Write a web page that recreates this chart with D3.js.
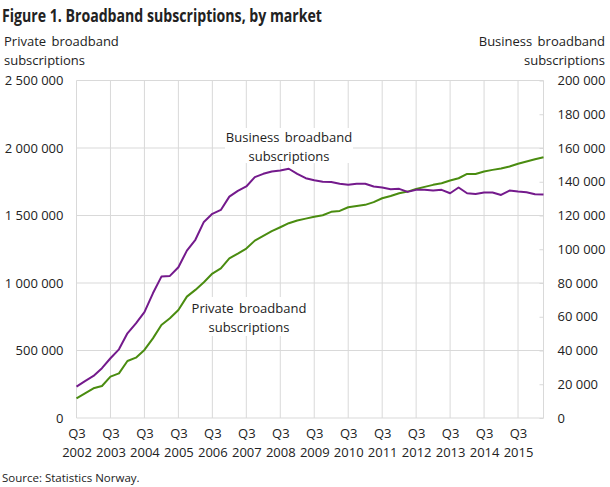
<!DOCTYPE html>
<html lang="en">
<head>
    <meta charset="UTF-8"/>
    <title>Broadband subscriptions, by market</title>
    <script src="https://d3js.org/d3.v7.min.js"></script>
    <style>
        body { margin: 0; background: #fff; }
        text { font-family: "Open Sans", sans-serif; fill: #222; }
    </style>
</head>
<body>
<script>
    // quarters 2002K3 .. 2016K2
    var quarters = [
        "2002K3","2002K4",
        "2003K1","2003K2","2003K3","2003K4",
        "2004K1","2004K2","2004K3","2004K4",
        "2005K1","2005K2","2005K3","2005K4",
        "2006K1","2006K2","2006K3","2006K4",
        "2007K1","2007K2","2007K3","2007K4",
        "2008K1","2008K2","2008K3","2008K4",
        "2009K1","2009K2","2009K3","2009K4",
        "2010K1","2010K2","2010K3","2010K4",
        "2011K1","2011K2","2011K3","2011K4",
        "2012K1","2012K2","2012K3","2012K4",
        "2013K1","2013K2","2013K3","2013K4",
        "2014K1","2014K2","2014K3","2014K4",
        "2015K1","2015K2","2015K3","2015K4",
        "2016K1","2016K2"
    ];

    // private subscriptions (left axis)
    var privateSubs = [
        146000, 183000, 220000, 237000, 306000, 331000, 422000, 447000,
        504000, 590000, 689000, 739000, 800000, 899000, 949000, 1006000,
        1070000, 1109000, 1183000, 1218000, 1255000, 1314000, 1349000, 1384000,
        1413000, 1443000, 1463000, 1477000, 1490000, 1502000, 1527000, 1534000,
        1561000, 1571000, 1579000, 1599000, 1628000, 1645000, 1665000, 1677000,
        1697000, 1712000, 1727000, 1739000, 1759000, 1776000, 1808000, 1808000,
        1826000, 1838000, 1848000, 1863000, 1883000, 1900000, 1917000, 1932000
    ];

    // business subscriptions (right axis)
    var businessSubs = [
        18600, 21900, 24900, 29500, 35400, 40700, 50200, 56100,
        62700, 73900, 83800, 84200, 89300, 99200, 105600, 116200,
        121000, 123300, 131200, 134600, 137200, 142700, 144700, 146100,
        146700, 147700, 144700, 142100, 140900, 140000, 139800, 138800,
        138200, 138800, 138800, 137200, 136600, 135600, 135800, 134000,
        135200, 135300, 134800, 135200, 133200, 136600, 133200, 132800,
        133600, 133600, 132200, 134800, 134200, 133800, 132600, 132400
    ];

    var leftTicks = [0, 500000, 1000000, 1500000, 2000000, 2500000];
    var rightTicks = [0, 20000, 40000, 60000, 80000, 100000, 120000, 140000, 160000, 180000, 200000];
    var xTicks = ["2002K3","2003K3","2004K3","2005K3","2006K3","2007K3","2008K3",
                  "2009K3","2010K3","2011K3","2012K3","2013K3","2014K3","2015K3"];

    var w = 610;
    var h = 487;
    var plotLeft = 76.5, plotRight = 543.5, plotTop = 80.5, plotBottom = 418;

    var fmt = function(d) { return d3.format(",")(d).replace(/,/g, " "); };

    var xScale = d3.scalePoint()
                    .domain(quarters)
                    .range([plotLeft, plotRight]);

    var yLeft = d3.scaleLinear()
                    .domain([0, 2500000])
                    .range([plotBottom, plotTop]);

    var yRight = d3.scaleLinear()
                    .domain([0, 200000])
                    .range([plotBottom, plotTop]);

    var svg = d3.select("body")
                .append("svg")
                .attr("width", w)
                .attr("height", h);

    // grid
    var grid = svg.append("g").attr("stroke", "#d9d9d9").attr("stroke-width", 1);

    grid.selectAll(".hgrid")
        .data(leftTicks)
        .enter()
        .append("line")
        .attr("x1", plotLeft)
        .attr("x2", plotRight)
        .attr("y1", function(d) { return yLeft(d); })
        .attr("y2", function(d) { return yLeft(d); });

    grid.selectAll(".vgrid")
        .data(xTicks)
        .enter()
        .append("line")
        .attr("x1", function(d) { return xScale(d); })
        .attr("x2", function(d) { return xScale(d); })
        .attr("y1", plotTop)
        .attr("y2", plotBottom);

    grid.append("line")
        .attr("x1", plotRight).attr("x2", plotRight)
        .attr("y1", plotTop).attr("y2", plotBottom);

    // left axis
    var gLeft = svg.append("g")
        .attr("transform", "translate(" + plotLeft + ",0)")
        .call(d3.axisLeft(yLeft).tickValues(leftTicks).tickSize(0).tickPadding(13).tickFormat(fmt));
    gLeft.select(".domain").remove();
    gLeft.selectAll("text").attr("font-size", "13px").attr("font-family", "Open Sans").attr("fill", "#222");

    // right axis, small inward ticks
    var gRight = svg.append("g")
        .attr("transform", "translate(" + plotRight + ",0)")
        .call(d3.axisRight(yRight).tickValues(rightTicks).tickSize(-4).tickPadding(14).tickFormat(fmt));
    gRight.select(".domain").remove();
    gRight.selectAll("line").attr("stroke", "#d9d9d9");
    gRight.selectAll("text").attr("font-size", "13px").attr("font-family", "Open Sans").attr("fill", "#222");

    // x axis
    var gx = svg.append("g")
        .attr("transform", "translate(0," + plotBottom + ")")
        .call(d3.axisBottom(xScale).tickValues(xTicks).tickSize(0).tickFormat(""));
    gx.select(".domain").remove();
    gx.selectAll(".tick").each(function(d) {
        var t = d3.select(this).append("text")
            .attr("text-anchor", "middle")
            .attr("font-size", "13px")
            .attr("fill", "#222");
        t.append("tspan").attr("x", 0).attr("y", 20).text("Q" + d.slice(5));
        t.append("tspan").attr("x", 0).attr("y", 39).text(d.slice(0, 4));
    });

    // lines
    var linePrivate = d3.line()
        .x(function(d, i) { return xScale(quarters[i]); })
        .y(function(d) { return yLeft(d); });

    var lineBusiness = d3.line()
        .x(function(d, i) { return xScale(quarters[i]); })
        .y(function(d) { return yRight(d); });

    svg.append("path")
        .datum(privateSubs)
        .attr("d", linePrivate)
        .attr("fill", "none")
        .attr("stroke", "#4a8c10")
        .attr("stroke-width", 2)
        .attr("stroke-linejoin", "round");

    svg.append("path")
        .datum(businessSubs)
        .attr("d", lineBusiness)
        .attr("fill", "none")
        .attr("stroke", "#741a8c")
        .attr("stroke-width", 2)
        .attr("stroke-linejoin", "round");

    // line labels with white boxes
    function label(cx, y1, lines, bx, by, bw, bh) {
        svg.append("rect")
            .attr("x", bx).attr("y", by).attr("width", bw).attr("height", bh)
            .attr("fill", "#fff");
        lines.forEach(function(s, i) {
            svg.append("text")
                .attr("x", cx)
                .attr("y", y1 + i * 19)
                .attr("text-anchor", "middle")
                .attr("font-size", "13px")
                .attr("word-spacing", "2px")
                .text(s);
        });
    }
    label(289, 142, ["Business broadband", "subscriptions"], 225, 128, 128, 35);
    label(249, 313, ["Private broadband", "subscriptions"], 189, 297, 120, 39);

    // titles
    svg.append("text")
        .attr("x", 2)
        .attr("y", 22)
        .attr("font-size", "17px")
        .attr("font-weight", "bold")
        .attr("textLength", 320)
        .attr("lengthAdjust", "spacingAndGlyphs")
        .attr("fill", "#111")
        .text("Figure 1. Broadband subscriptions, by market");

    svg.append("text").attr("x", 4).attr("y", 46).attr("font-size", "13px")
        .attr("word-spacing", "2px").text("Private broadband");
    svg.append("text").attr("x", 4).attr("y", 65).attr("font-size", "13px")
        .text("subscriptions");

    svg.append("text").attr("x", 605).attr("y", 46).attr("font-size", "13px")
        .attr("text-anchor", "end").attr("word-spacing", "2px").text("Business broadband");
    svg.append("text").attr("x", 605).attr("y", 65).attr("font-size", "13px")
        .attr("text-anchor", "end").text("subscriptions");

    svg.append("text")
        .attr("x", 2)
        .attr("y", 482)
        .attr("font-size", "11.5px")
        .text("Source: Statistics Norway.");
</script>
</body>
</html>
